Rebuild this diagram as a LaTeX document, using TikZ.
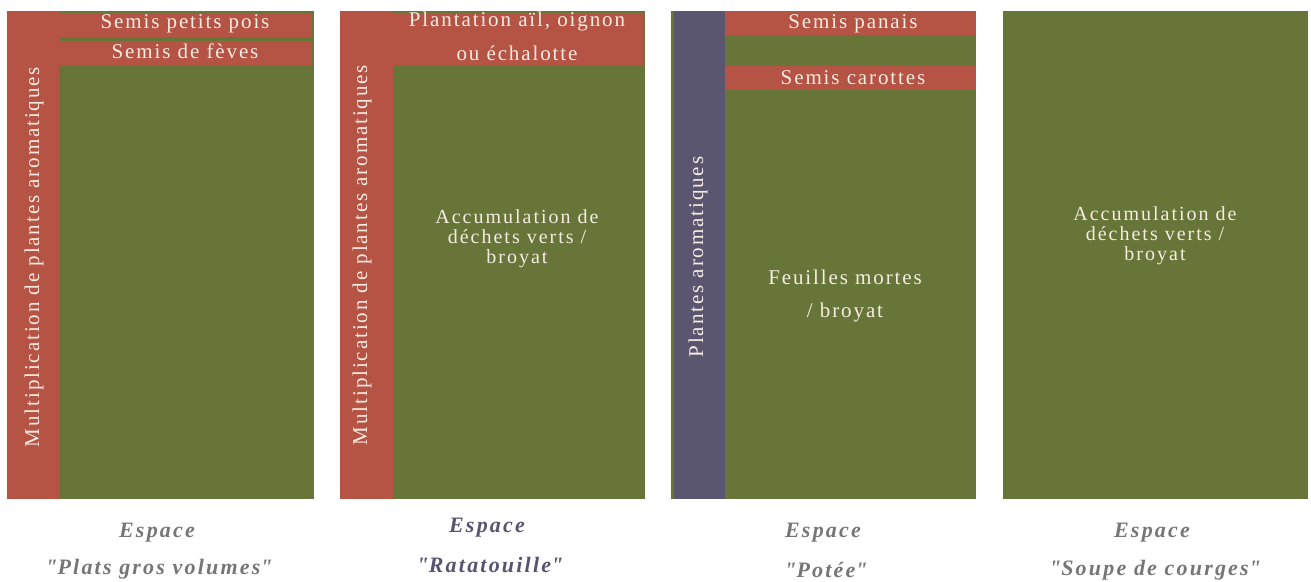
\documentclass[tikz,border=0pt]{standalone}
\usepackage{fontspec}
\setmainfont{Liberation Serif}
\definecolor{bedgreen}{RGB}{103,117,56}
\definecolor{bedred}{RGB}{181,83,68}
\definecolor{bedpurple}{RGB}{90,86,112}
\definecolor{paletext}{RGB}{245,236,226}
\definecolor{capgray}{RGB}{118,118,118}
\definecolor{cappurple}{RGB}{88,84,112}
\tikzset{
  lbl/.style={text=paletext, font=\fontsize{21}{17.5}\selectfont\addfontfeature{LetterSpace=9}, inner sep=0pt, align=center},
  vlbl/.style={lbl, rotate=90},
  pile/.style={lbl, font=\fontsize{20}{20}\selectfont\addfontfeature{LetterSpace=10}},
  captxt/.style={text=capgray, font=\fontsize{22}{38}\selectfont\bfseries\itshape\addfontfeature{LetterSpace=10}, inner sep=0pt, align=center},
}
\newcommand{\dq}{\textquotedbl}
\begin{document}
\begin{tikzpicture}[x=1pt,y=-1pt]
\useasboundingbox (0,0) rectangle (1311,581);
% panel 1
\fill[bedgreen] (7,11) rectangle (314,499);
\fill[bedred] (7,11) rectangle (59,499);
\fill[bedred] (59,13) rectangle (312,37);
\fill[bedred] (59,41) rectangle (312,65);
\node[lbl] (p1a) at (185,24) {Semis petits pois};
\node[lbl] (p1b) at (185,51) {Semis de fèves};
\node[vlbl] (p1v) at (34,257) {Multiplication de plantes aromatiques};
% panel 2
\fill[bedgreen] (340,11) rectangle (645,499);
\fill[bedred] (340,11) rectangle (393,499);
\fill[bedred] (393,13) rectangle (643,65);
\node[lbl] (p2a) at (517,21) {Plantation aïl, oignon};
\node[lbl] (p2b) at (517,53) {ou échalotte};
\node[vlbl] (p2v) at (362,255) {Multiplication de plantes aromatiques};
\node[pile] (p2c) at (517,239) {Accumulation de\\déchets verts /\\broyat};
% panel 3
\fill[bedgreen] (671,11) rectangle (976,499);
\fill[bedpurple] (674,11) rectangle (725,499);
\fill[bedred] (725,11) rectangle (976,35);
\fill[bedred] (725,66) rectangle (976,90);
\node[lbl] (p3a) at (853,24) {Semis panais};
\node[lbl] (p3b) at (853,78) {Semis carottes};
\node[vlbl] (p3v) at (698,257) {Plantes aromatiques};
\node[lbl] (p3c) at (845,277) {Feuilles mortes};
\node[lbl] (p3d) at (845,312) {/ broyat};
% panel 4
\fill[bedgreen] (1003,11) rectangle (1308,499);
\node[pile] (p4c) at (1155,236) {Accumulation de\\déchets verts /\\broyat};
% captions
\node[captxt] (c1a) at (157,533) {Espace};
\node[captxt] (c1b) at (159,569) {\dq Plats gros volumes\dq};
\node[captxt, text=cappurple] (c2a) at (487,528) {Espace};
\node[captxt, text=cappurple] (c2b) at (490,565) {\dq Ratatouille\dq};
\node[captxt] (c3a) at (823,533) {Espace};
\node[captxt] (c3b) at (826,570) {\dq Potée\dq};
\node[captxt] (c4a) at (1152,533) {Espace};
\node[captxt] (c4b) at (1155,570) {\dq Soupe de courges\dq};
\end{tikzpicture}
\end{document}
